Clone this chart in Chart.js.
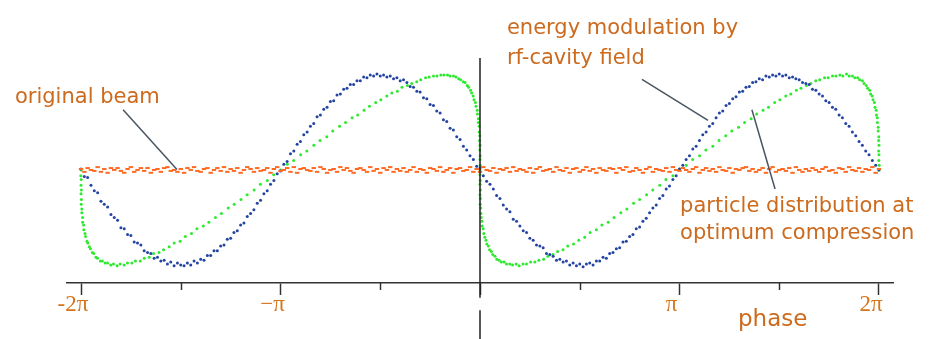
<!DOCTYPE html>
<html><head><meta charset="utf-8">
<script src="https://cdn.jsdelivr.net/npm/chart.js@4/dist/chart.umd.min.js"></script>
<style>html,body{margin:0;padding:0;background:#fff}canvas{display:block}</style>
</head><body>
<canvas id="c" width="937" height="339"></canvas>
<script>
// ---- data (phase in units of pi) ----
const tickValues = [-2, -1, 0, 1, 2];
const tickLabels = ['-2π', '−π', '', 'π', '2π'];
const minorTickValues = [-1.5, -0.5, 0.5, 1.5];
const phaseGrid = Array.from({length: 241}, (_, k) => -2 + k / 60);

const originalBeam = [
0.01,-0.02,0.02,0.00,-0.01,0.03,-0.02,0.01,-0.03,0.02,0.00,0.02,-0.01,-0.03,0.01,0.03,-0.02,0.00,0.02,-0.01,
0.02,-0.03,0.00,0.01,-0.02,0.02,0.03,-0.01,0.00,-0.02,0.01,-0.03,0.02,0.00,0.03,-0.01,-0.02,0.01,0.02,-0.03,
0.00,0.02,-0.01,0.03,-0.02,0.01,-0.01,0.02,-0.03,0.00,0.03,0.01,-0.02,0.02,-0.01,0.00,0.02,-0.03,0.01,0.03,
-0.01,0.00,0.02,-0.02,0.03,-0.03,0.01,0.02,0.00,-0.01,0.02,-0.02,0.03,0.01,-0.03,0.00,0.01,-0.02,0.03,0.00,
0.02,-0.01,-0.03,0.01,0.02,0.00,-0.02,0.03,-0.01,0.01,-0.03,0.02,0.00,0.03,-0.02,0.01,-0.01,0.02,-0.02,0.00,
0.03,-0.02,0.01,0.00,-0.03,0.02,0.01,-0.01,0.03,-0.02,0.00,0.02,-0.03,0.01,0.02,-0.01,0.00,0.03,-0.02,0.01,
-0.02,0.03,0.00,-0.01,0.02,-0.03,0.01,0.00,0.02,-0.02,0.03,-0.01,0.01,0.00,-0.02,0.02,-0.03,0.01,0.03,-0.01,
0.00,0.01,-0.02,0.03,0.00,-0.01,0.02,-0.03,0.01,0.02,-0.02,0.00,0.03,-0.01,0.01,-0.03,0.02,0.00,-0.01,0.02,
0.01,-0.03,0.02,0.00,0.03,-0.02,-0.01,0.02,0.00,-0.03,0.01,0.03,-0.02,0.01,0.00,-0.01,0.02,-0.02,0.03,0.00,
-0.01,0.02,0.00,-0.02,0.01,0.03,-0.03,0.00,0.02,-0.01,0.01,-0.02,0.03,0.00,-0.01,0.02,-0.03,0.01,0.00,0.02,
0.03,-0.01,0.01,-0.02,0.00,0.02,-0.03,0.01,0.03,-0.02,0.00,0.01,-0.01,0.02,-0.03,0.03,0.00,-0.02,0.01,-0.01,
0.02,0.00,-0.02,0.01,0.03,-0.01,0.00,-0.03,0.02,0.01,-0.02,0.03,0.00,-0.01,0.02,-0.02,0.01,0.00,0.03,-0.03,
0.01];

const energyModulation = [
0.01,-0.07,-0.08,-0.16,-0.22,-0.24,-0.33,-0.36,-0.39,-0.47,-0.50,-0.53,-0.61,-0.62,-0.68,-0.69,-0.76,-0.77,-0.79,-0.85,
-0.87,-0.88,-0.93,-0.92,-0.96,-0.95,-0.99,-0.97,-1.01,-0.98,-1.00,-1.01,-0.98,-1.00,-0.96,-0.98,-0.94,-0.95,-0.90,-0.90,
-0.85,-0.85,-0.80,-0.79,-0.73,-0.72,-0.66,-0.64,-0.58,-0.56,-0.49,-0.46,-0.42,-0.35,-0.32,-0.25,-0.22,-0.15,-0.11,-0.04,
-0.01,0.06,0.09,0.17,0.20,0.27,0.30,0.37,0.40,0.46,0.49,0.56,0.58,0.64,0.66,0.72,0.73,0.79,0.80,0.85,
0.86,0.90,0.90,0.94,0.94,0.98,0.97,1.00,0.99,1.01,0.99,1.00,0.98,0.99,0.96,0.97,0.94,0.95,0.92,0.88,
0.87,0.83,0.82,0.76,0.75,0.69,0.68,0.62,0.60,0.53,0.51,0.44,0.42,0.35,0.32,0.25,0.21,0.15,0.11,0.04,
0.02,-0.06,-0.12,-0.15,-0.20,-0.27,-0.30,-0.37,-0.41,-0.44,-0.52,-0.54,-0.59,-0.64,-0.66,-0.72,-0.74,-0.79,-0.80,-0.82,
-0.88,-0.89,-0.91,-0.95,-0.94,-0.97,-0.96,-1.00,-0.98,-1.01,-0.99,-1.02,-0.99,-0.98,-1.00,-0.96,-0.96,-0.92,-0.93,-0.88,
-0.87,-0.83,-0.82,-0.76,-0.75,-0.70,-0.68,-0.62,-0.60,-0.54,-0.51,-0.45,-0.40,-0.37,-0.30,-0.27,-0.20,-0.17,-0.10,-0.06,
0.01,0.05,0.11,0.15,0.22,0.25,0.31,0.37,0.40,0.46,0.49,0.55,0.60,0.62,0.68,0.70,0.75,0.77,0.82,0.83,
0.87,0.88,0.92,0.93,0.96,0.95,0.99,0.98,1.00,0.99,1.01,0.99,1.00,0.97,0.98,0.96,0.95,0.92,0.91,0.90,
0.85,0.84,0.80,0.78,0.73,0.71,0.66,0.64,0.58,0.55,0.49,0.46,0.40,0.36,0.30,0.26,0.20,0.16,0.10,0.05,
0.00];

const compressedPhase = [
-2.000,-2.001,-1.999,-2.000,-1.998,-2.000,-1.998,-1.999,-1.996,-1.996,-1.992,-1.992,-1.987,-1.986,-1.980,-1.977,-1.970,-1.966,-1.958,-1.953,
-1.943,-1.936,-1.925,-1.917,-1.903,-1.893,-1.879,-1.867,-1.851,-1.837,-1.819,-1.804,-1.784,-1.767,-1.745,-1.727,-1.703,-1.683,-1.658,-1.636,
-1.609,-1.586,-1.558,-1.533,-1.503,-1.477,-1.446,-1.419,-1.387,-1.359,-1.326,-1.296,-1.262,-1.232,-1.198,-1.167,-1.132,-1.101,-1.066,-1.034,
-1.000,-0.966,-0.934,-0.899,-0.868,-0.833,-0.802,-0.768,-0.738,-0.704,-0.674,-0.641,-0.613,-0.581,-0.554,-0.523,-0.497,-0.467,-0.442,-0.414,
-0.391,-0.364,-0.342,-0.317,-0.297,-0.273,-0.255,-0.233,-0.216,-0.196,-0.181,-0.163,-0.150,-0.133,-0.121,-0.107,-0.097,-0.084,-0.075,-0.064,
-0.057,-0.047,-0.042,-0.034,-0.030,-0.023,-0.020,-0.014,-0.013,-0.008,-0.008,-0.004,-0.004,-0.001,-0.002,0.000,-0.001,0.001,0.000,0.001,
0.000,0.000,0.001,0.000,0.002,0.000,0.002,0.001,0.004,0.005,0.006,0.010,0.011,0.016,0.019,0.024,0.030,0.034,0.042,0.048,
0.057,0.064,0.075,0.084,0.096,0.107,0.121,0.133,0.149,0.163,0.181,0.196,0.216,0.233,0.254,0.275,0.295,0.319,0.340,0.366,
0.389,0.416,0.440,0.469,0.495,0.525,0.552,0.583,0.611,0.643,0.672,0.706,0.736,0.770,0.800,0.835,0.866,0.901,0.932,0.967,
1.000,1.034,1.066,1.101,1.132,1.167,1.198,1.232,1.262,1.296,1.326,1.359,1.387,1.419,1.446,1.477,1.503,1.533,1.558,1.586,
1.609,1.636,1.658,1.683,1.703,1.727,1.745,1.767,1.784,1.804,1.819,1.837,1.851,1.867,1.879,1.893,1.903,1.917,1.925,1.936,
1.943,1.953,1.958,1.966,1.970,1.977,1.980,1.986,1.987,1.992,1.992,1.996,1.996,1.999,1.998,2.000,1.998,2.000,1.999,2.001,
2.000];

const compressedEnergy = [
0.00,-0.06,-0.10,-0.16,-0.21,-0.25,-0.31,-0.36,-0.41,-0.45,-0.50,-0.55,-0.58,-0.63,-0.67,-0.70,-0.75,-0.77,-0.81,-0.83,
-0.87,-0.88,-0.92,-0.93,-0.96,-0.96,-0.98,-0.98,-1.00,-0.99,-1.01,-0.99,-1.00,-0.98,-0.98,-0.96,-0.96,-0.93,-0.92,-0.88,
-0.87,-0.84,-0.81,-0.77,-0.75,-0.70,-0.67,-0.62,-0.59,-0.55,-0.50,-0.46,-0.40,-0.36,-0.31,-0.26,-0.21,-0.15,-0.11,-0.05,
0.00,0.06,0.10,0.16,0.20,0.26,0.31,0.35,0.41,0.46,0.50,0.55,0.58,0.63,0.67,0.71,0.74,0.78,0.81,0.83,
0.87,0.89,0.91,0.93,0.95,0.97,0.98,0.99,0.99,1.00,1.00,1.00,0.99,0.99,0.98,0.96,0.95,0.93,0.92,0.89,
0.87,0.84,0.81,0.78,0.74,0.71,0.67,0.63,0.59,0.54,0.50,0.46,0.40,0.36,0.31,0.26,0.21,0.15,0.11,0.05,
0.00,-0.05,-0.11,-0.15,-0.21,-0.26,-0.30,-0.36,-0.40,-0.46,-0.50,-0.54,-0.59,-0.62,-0.67,-0.71,-0.74,-0.78,-0.80,-0.84,
-0.86,-0.89,-0.91,-0.94,-0.95,-0.97,-0.97,-0.99,-0.99,-1.00,-0.99,-1.01,-0.99,-0.99,-0.97,-0.97,-0.95,-0.94,-0.91,-0.89,
-0.86,-0.84,-0.80,-0.78,-0.74,-0.71,-0.66,-0.63,-0.58,-0.55,-0.50,-0.45,-0.41,-0.35,-0.31,-0.26,-0.21,-0.16,-0.10,-0.06,
0.01,0.05,0.11,0.15,0.21,0.25,0.31,0.36,0.41,0.45,0.50,0.54,0.59,0.63,0.66,0.71,0.74,0.78,0.80,0.84,
0.86,0.89,0.91,0.94,0.95,0.97,0.97,0.99,0.99,1.00,0.99,1.01,0.99,0.99,0.97,0.97,0.95,0.94,0.91,0.89,
0.86,0.84,0.80,0.78,0.74,0.71,0.66,0.63,0.58,0.55,0.50,0.45,0.41,0.35,0.31,0.26,0.20,0.16,0.10,0.05,
0.00];

const axisLineX = [0, 0, 0, 0, 0];
const axisLineY = [1.18, -1.345, null, -1.479, -1.80];

// annotations (data coordinates)
const labelTexts = ['original beam', 'energy modulation by', 'rf-cavity field', 'particle distribution at', 'optimum compression'];
const labelX = [-2.331, 0.135, 0.135, 1.003, 1.003];
const labelY = [0.706, 1.428, 1.119, -0.438, -0.727];
const axisTitle = {text: 'phase', x: 1.293, y: -1.644};
const leaderLines = [
  [-1.789, 0.634, -1.519, 0.005],
  [0.812, 0.954, 1.143, 0.521],
  [1.363, 0.634, 1.479, -0.201]
];

const pts = (xs, ys) => xs.map((x, i) => ({x: x, y: ys[i]}));

const TEXT_COLOR = '#cc6a1e';

const annotationPlugin = {
  id: 'annot',
  afterDatasetsDraw(chart) {
    const ctx = chart.ctx, xs = chart.scales.x, ys = chart.scales.y;
    ctx.save();
    // leader lines
    ctx.strokeStyle = '#4a5560';
    ctx.lineWidth = 1.5;
    leaderLines.forEach(l => {
      ctx.beginPath();
      ctx.moveTo(xs.getPixelForValue(l[0]), ys.getPixelForValue(l[1]));
      ctx.lineTo(xs.getPixelForValue(l[2]), ys.getPixelForValue(l[3]));
      ctx.stroke();
    });
    // minor ticks
    ctx.strokeStyle = '#333';
    const base = xs.top;
    minorTickValues.forEach(v => {
      const px = Math.round(xs.getPixelForValue(v)) + 0.5;
      ctx.beginPath();
      ctx.moveTo(px, base);
      ctx.lineTo(px, base + 7);
      ctx.stroke();
    });
    // texts
    ctx.fillStyle = TEXT_COLOR;
    ctx.textAlign = 'left';
    ctx.textBaseline = 'alphabetic';
    ctx.font = '21px "DejaVu Sans"';
    labelTexts.forEach((t, i) => {
      ctx.fillText(t, xs.getPixelForValue(labelX[i]), ys.getPixelForValue(labelY[i]));
    });
    ctx.font = '23px "DejaVu Sans"';
    ctx.fillText(axisTitle.text, xs.getPixelForValue(axisTitle.x), ys.getPixelForValue(axisTitle.y));
    ctx.restore();
  }
};

new Chart(document.getElementById('c'), {
  type: 'scatter',
  data: {
    datasets: [
      {
        type: 'line',
        data: pts(axisLineX, axisLineY),
        borderColor: '#222',
        borderWidth: 1.5,
        pointRadius: 0,
        spanGaps: false,
        clip: false
      },
      {
        data: pts(phaseGrid, originalBeam),
        pointStyle: 'line',
        pointRadius: 2.2,
        borderColor: '#ff6a22',
        backgroundColor: '#ff6a22',
        pointBorderWidth: 2,
        clip: false
      },
      {
        data: pts(phaseGrid, energyModulation),
        pointRadius: 1.5,
        pointBorderWidth: 0,
        backgroundColor: '#2444a2',
        borderColor: '#2444a2',
        clip: false
      },
      {
        data: pts(compressedPhase, compressedEnergy),
        pointRadius: 1.5,
        pointBorderWidth: 0,
        backgroundColor: '#2eea2e',
        borderColor: '#2eea2e',
        clip: false
      }
    ]
  },
  options: {
    responsive: false,
    animation: false,
    layout: {padding: {left: 67, right: 44, top: 0, bottom: 0}},
    plugins: {legend: {display: false}, tooltip: {enabled: false}},
    events: [],
    scales: {
      x: {
        type: 'linear',
        min: -2.0702,
        max: 2.0702,
        afterBuildTicks: s => { s.ticks = tickValues.map(v => ({value: v})); },
        afterFit: s => { s.height = 56; },
        ticks: {
          callback: (v) => tickLabels[tickValues.indexOf(v)],
          font: {family: '"Liberation Serif"', size: 23},
          color: '#d5761e',
          padding: -4,
          labelOffset: -8,
          autoSkip: false,
          maxRotation: 0
        },
        grid: {drawOnChartArea: false, tickLength: 12, tickWidth: 1.5, tickColor: '#333'},
        border: {color: '#333', width: 1.5}
      },
      y: {
        display: false,
        min: -1.1907,
        max: 1.7268
      }
    }
  },
  plugins: [annotationPlugin]
});
</script>
</body></html>
